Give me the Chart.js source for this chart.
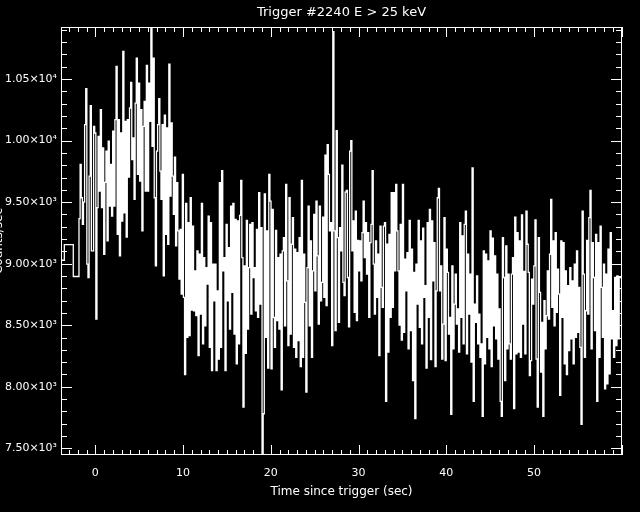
<!DOCTYPE html>
<html>
<head>
<meta charset="utf-8">
<script src="https://cdn.jsdelivr.net/npm/chart.js@4"></script>
<style>
  html, body { margin: 0; padding: 0; background: #000; }
</style>
</head>
<body>
<canvas id="myChart" width="640" height="512"></canvas>
<script>
const titleText = 'Trigger #2240 E > 25 keV';
const xTitle = 'Time since trigger (sec)';
const yTitle = 'Counts/sec';

const xMin = -3.91, xMax = 60.03;
const yMin = 7446, yMax = 10923;
const xTickValues = [0, 10, 20, 30, 40, 50];
const yTickValues = [7500, 8000, 8500, 9000, 9500, 10000, 10500];

// pre-trigger coarse bins (left edge, counts)
const coarseEdges = [-3.91, -3.53, -2.51];
const coarseCounts = [9028, 9155, 8896];

// fine bins
const fineStart = -1.86;
const binWidth = 0.128;
const fineCounts = [
  // -1.9 .. 6.8 s
  9366, 9806, 9536, 9320, 9501, 10130, 10422, 8996, 8888, 9711, 10284, 9104, 9104, 10116, 10062, 8550,
  9455, 10035, 9590, 10251, 9455, 9941, 9077, 9660, 9914, 9185, 9995, 9468, 9806, 9387, 10076, 9468,
  10170, 10602, 9239, 10170, 9063, 10062, 9347, 10724, 9414, 10157, 9217, 10170, 9703, 10265, 10473, 9846,
  10022, 9522, 10305, 10670, 9725, 10467, 9671, 10251, 9266, 10116, 10319, 9590, 10611, 9590, 10467, 10157,
  10913, 9954, 10670, 9536,
  // 6.8 .. 17.6 s
  8982, 9914, 10130, 10341, 9752, 9522, 10130, 8901, 10206, 9239, 10103, 9158, 10621, 9550, 10144, 9711,
  9401, 9865, 9145, 9658, 9266, 8874, 9279, 8753, 9725, 8726, 8100, 9490, 8402, 9334, 8415, 9536,
  8623, 9306, 8618, 8942, 8578, 9104, 8253, 9077, 8591, 9490, 8348, 9050, 8496, 8969, 8834, 9387,
  8321, 9334, 8132, 8996, 8699, 8996, 8132, 8780, 8226, 9658, 8321, 9757, 8942, 9050, 8132, 9320,
  8699, 9131, 8469, 9468, 8767, 9490, 8429, 9360, 8186, 9347, 8348, 9393, 9676, 9050, 7835, 8982,
  8272, 9352, 8469, 8969,
  // 17.6 .. 28.1 s
  9320, 8591, 9334, 8888, 8969, 8618, 9279, 8564, 9577, 8672, 9293, 7457, 7781, 9568, 8402, 9266,
  8151, 9725, 9509, 8146, 9442, 8564, 8321, 9271, 8537, 9050, 8469, 9077, 7975, 9104, 9212, 8496,
  9644, 8861, 8335, 9536, 8429, 9158, 9374, 8321, 9118, 8240, 9090, 8375, 9212, 8164, 9676, 8240,
  9077, 8686, 7957, 8969, 9468, 8496, 9185, 8240, 8942, 9401, 8780, 9509, 9063, 8510, 9468, 8699,
  8848, 9379, 8726, 9882, 8659, 9968, 9725, 9266, 9334, 8335, 10886, 9266, 8456, 10081, 9212, 8524,
  9293, 9104,
  // 28.1 .. 38.6 s
  9801, 8848, 8740, 9582, 9595, 8888, 8488, 9914, 10000, 9104, 9347, 8605, 9428, 8537, 9190, 8942,
  9185, 8861, 9253, 9509, 9050, 9334, 8915, 9253, 8564, 9171, 9320, 9757, 8996, 8591, 9185, 8726,
  9077, 8253, 9306, 8807, 8645, 9306, 9334, 7881, 9158, 8281, 9239, 8564, 9577, 8645, 9577, 8942,
  9644, 9266, 8942, 8502, 9320, 8380, 9644, 8443, 9037, 8780, 9090, 8308, 9352, 8456, 9118, 8051,
  8929, 7741, 8996, 8672, 9352, 8483, 9185, 8348, 9288, 8726, 8821, 8151, 9334, 8564, 9442, 8221,
  9347, 8861,
  // 38.6 .. 49.1 s
  9171, 8164, 8780, 9536, 9612, 8780, 8982, 8226, 8510, 9374, 8213, 9118, 8929, 8429, 8564, 7776,
  8982, 8308, 8672, 8915, 8510, 8632, 8281, 9334, 8564, 9226, 8348, 9320, 9428, 8267, 9077, 8591,
  8915, 8200, 9779, 7881, 8672, 8524, 8901, 8348, 8591, 8240, 8348, 7759, 9104, 8186, 9077, 8402,
  9023, 8308, 9266, 8164, 9207, 8496, 9063, 8389, 8915, 8226, 8632, 7881, 7759, 9212, 8888, 8051,
  9145, 8308, 8915, 8348, 8226, 8915, 9050, 7822, 9379, 8267, 9253, 8281, 9185, 8240, 9396, 8510,
  8937, 8267,
  // 49.1 .. 59.8 s
  9428, 9158, 8929, 8092, 8213, 8874, 8672, 8982, 9355, 8226, 7835, 9212, 8767, 8119, 8524, 7759,
  8699, 8308, 8578, 8942, 8550, 9077, 9522, 8645, 9185, 8496, 9253, 8605, 8956, 8753, 7930, 9185,
  8564, 9171, 8186, 8942, 8100, 8821, 8294, 8969, 8389, 8861, 8186, 8996, 8402, 9104, 8443, 8807,
  8321, 7695, 9428, 8915, 8240, 8618, 9190, 8591, 9374, 9595, 8308, 9171, 8888, 8456, 9239, 7881,
  9171, 8240, 9306, 8807, 8402, 8996, 7984, 8915, 8024, 9118, 8105, 9253, 8389, 8618, 8240, 8888,
  8335, 8901, 8389, 8888
];

const points = [];
for (let i = 0; i < coarseEdges.length; i++) {
  points.push({ x: coarseEdges[i], y: coarseCounts[i] });
}
for (let i = 0; i < fineCounts.length; i++) {
  points.push({ x: fineStart + i * binWidth, y: fineCounts[i] });
}
points.push({ x: xMax, y: fineCounts[fineCounts.length - 1] });

function sciLabel(v) {
  const e = v >= 10000 ? 4 : 3;
  return (v / Math.pow(10, e)).toFixed(2) + '×10' + (e === 4 ? '⁴' : '³');
}

// box, IDL style inward ticks on all four sides, title and y label
const frameTicks = {
  id: 'frameTicks',
  afterDatasetsDraw(chart) {
    const c = chart.ctx;
    const a = chart.chartArea;
    const xs = chart.scales.x, ys = chart.scales.y;
    c.save();
    c.strokeStyle = '#fff';
    c.lineWidth = 1;
    c.strokeRect(a.left + 0.5, a.top + 0.5, a.right - a.left - 1, a.bottom - a.top - 1);
    c.beginPath();
    for (let t = Math.ceil(xMin); t <= xMax; t++) {
      const px = Math.round(xs.getPixelForValue(t)) + 0.5;
      const len = t % 10 === 0 ? 10 : 5;
      c.moveTo(px, a.bottom); c.lineTo(px, a.bottom - len);
      c.moveTo(px, a.top); c.lineTo(px, a.top + len);
    }
    for (let v = Math.ceil(yMin / 100) * 100; v <= yMax; v += 100) {
      const py = Math.round(ys.getPixelForValue(v)) + 0.5;
      const len = v % 500 === 0 ? 11 : 6;
      c.moveTo(a.left, py); c.lineTo(a.left + len, py);
      c.moveTo(a.right, py); c.lineTo(a.right - len, py);
    }
    c.stroke();

    c.fillStyle = '#fff';
    c.font = '13px "DejaVu Sans"';
    c.textAlign = 'center';
    c.textBaseline = 'middle';
    c.fillText(titleText, (a.left + a.right) / 2, 13);

    // y title sits mostly off the left edge, as in the original plot
    c.translate(2, (a.top + a.bottom) / 2);
    c.rotate(-Math.PI / 2);
    c.font = '12px "DejaVu Sans"';
    c.textBaseline = 'alphabetic';
    c.fillText(yTitle, 0, 0);
    c.restore();
  }
};

const ctx = document.getElementById('myChart');
new Chart(ctx, {
  type: 'line',
  data: {
    datasets: [{
      data: points,
      borderColor: '#fff',
      borderWidth: 1.3,
      stepped: 'before',
      pointRadius: 0,
      fill: false
    }]
  },
  options: {
    responsive: false,
    animation: false,
    layout: { padding: { left: 0, right: 18, top: 27, bottom: 0 } },
    plugins: {
      legend: { display: false },
      tooltip: { enabled: false },
      title: { display: false }
    },
    scales: {
      x: {
        type: 'linear',
        min: xMin,
        max: xMax,
        grid: { display: false, drawTicks: false },
        border: { display: false },
        afterBuildTicks: s => { s.ticks = xTickValues.map(v => ({ value: v })); },
        afterFit: s => { s.height = 57; },
        ticks: {
          color: '#fff',
          font: { family: 'DejaVu Sans', size: 11 },
          padding: 12,
          maxRotation: 0,
          callback: v => String(v)
        },
        title: {
          display: true,
          text: xTitle,
          color: '#fff',
          font: { family: 'DejaVu Sans', size: 12 },
          padding: { top: 0, bottom: 13 }
        }
      },
      y: {
        min: yMin,
        max: yMax,
        grid: { display: false, drawTicks: false },
        border: { display: false },
        afterBuildTicks: s => { s.ticks = yTickValues.map(v => ({ value: v })); },
        afterFit: s => { s.width = 61; },
        ticks: {
          color: '#fff',
          font: { family: 'DejaVu Sans', size: 11 },
          padding: 4,
          callback: v => sciLabel(v)
        }
      }
    }
  },
  plugins: [frameTicks]
});
</script>
</body>
</html>
